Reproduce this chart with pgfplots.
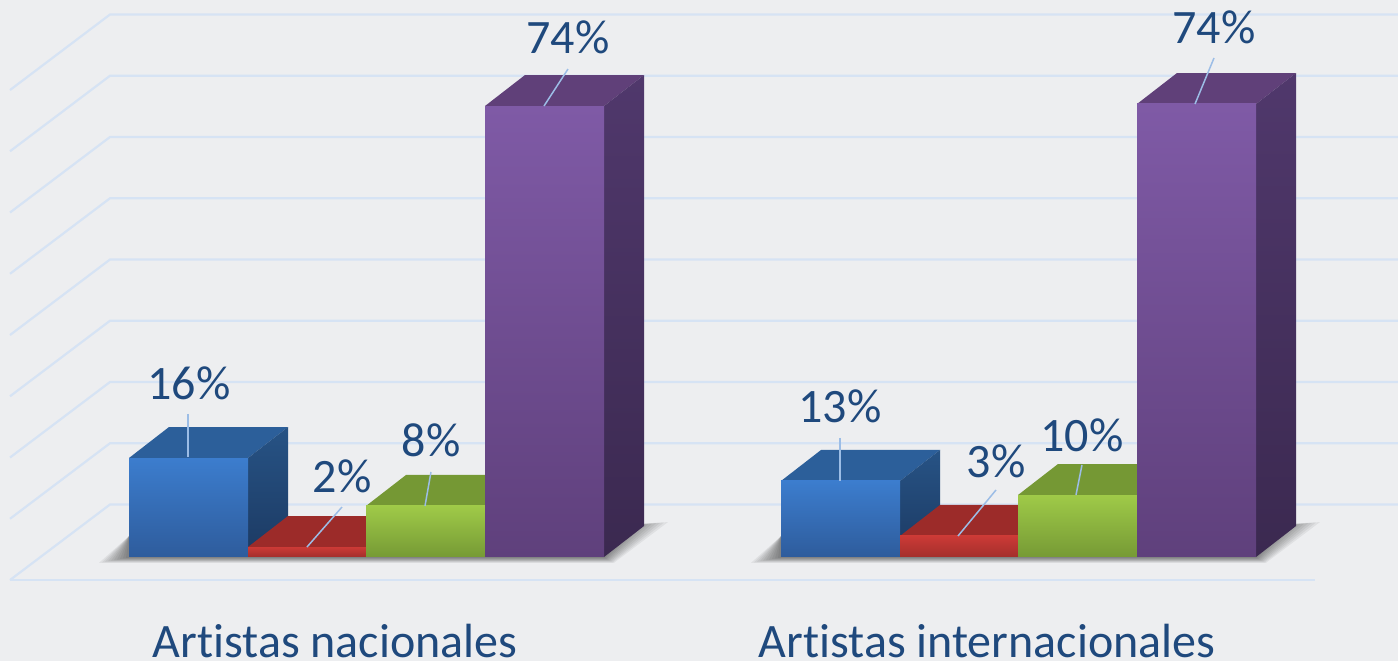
\documentclass[border=0pt]{standalone}
\usepackage{pgfplots}
\pgfplotsset{compat=1.18}
\usepackage{fontspec}
\setmainfont[Ligatures=NoCommon]{Carlito}

\definecolor{bg}{HTML}{EDEEF0}
\definecolor{gridc}{HTML}{D6E3F4}
\definecolor{leader}{HTML}{9CBDE6}
\definecolor{txt}{HTML}{1F497D}
\definecolor{bluetop}{HTML}{2C5F9A}
\definecolor{blueA}{HTML}{3C7DCE}
\definecolor{blueB}{HTML}{2E5C9C}
\definecolor{blueS}{HTML}{275385}
\definecolor{blueT}{HTML}{1C3A63}
\definecolor{redtop}{HTML}{9C2B29}
\definecolor{redA}{HTML}{CC3A36}
\definecolor{redB}{HTML}{A32F2C}
\definecolor{redS}{HTML}{7E2220}
\definecolor{redT}{HTML}{6E1E1C}
\definecolor{greentop}{HTML}{759834}
\definecolor{greenA}{HTML}{9FCA48}
\definecolor{greenB}{HTML}{769A35}
\definecolor{greenS}{HTML}{5F7B2A}
\definecolor{greenT}{HTML}{506824}
\definecolor{purptop}{HTML}{604079}
\definecolor{purpA}{HTML}{7F5AA6}
\definecolor{purpB}{HTML}{5F407C}
\definecolor{purpS}{HTML}{50386C}
\definecolor{purpT}{HTML}{3B2950}

% x0, x1, value, colour prefix
\newcommand{\threedbar}[4]{%
  \pgfmathsetmacro{\xb}{#2+40}%
  \pgfmathsetmacro{\xa}{#1+40}%
  \pgfmathsetmacro{\vt}{#3+5.06}%
  \addplot[fill=#4top,draw=none] coordinates {(#1,#3) (\xa,\vt) (\xb,\vt) (#2,#3)} -- cycle;
  \addplot[top color=#4S,bottom color=#4T,draw=none] coordinates {(#2,#3) (\xb,\vt) (\xb,5.06) (#2,0)} -- cycle;
  \addplot[top color=#4A,bottom color=#4B,draw=none] coordinates {(#1,0) (#1,#3) (#2,#3) (#2,0)} -- cycle;
}
% soft shadow of a cluster: x0, x1, layer k
\newcommand{\shadowlayer}[3]{%
  \pgfmathsetmacro{\xl}{#1-30+3*#3}%
  \pgfmathsetmacro{\xs}{#2+64-4*#3}%
  \pgfmathsetmacro{\ys}{5.7-0.07*#3}%
  \pgfmathsetmacro{\xm}{#2+10-1.1*#3}%
  \pgfmathsetmacro{\yb}{-0.95+0.09*#3}%
  \addplot[fill=black,fill opacity=0.055,draw=none] coordinates {(\xl,\yb) (#1,3.4) (#2,5.06) (\xs,\ys) (\xm,\yb)} -- cycle;
}
\newcommand{\clustershadow}[2]{%
  \shadowlayer{#1}{#2}{0}
  \shadowlayer{#1}{#2}{1}
  \shadowlayer{#1}{#2}{2}
  \shadowlayer{#1}{#2}{3}
  \shadowlayer{#1}{#2}{4}
  \shadowlayer{#1}{#2}{5}
  \shadowlayer{#1}{#2}{6}
  \shadowlayer{#1}{#2}{7}
  \shadowlayer{#1}{#2}{8}
  \shadowlayer{#1}{#2}{9}
}
% gridline on the back wall with its diagonal on the left
\newcommand{\gridl}[2]{%
  \addplot[gridc,line width=2.2pt,line join=round] coordinates {(10,#2) (110,#1) (1398,#1)};
}
\newcommand{\lead}[4]{%
  \addplot[leader,line width=1.5pt] coordinates {(#1,#2) (#3,#4)};
}
\newcommand{\pct}[3]{%
  \node[text=txt,font=\fontsize{48}{50}\selectfont,anchor=center,inner sep=0pt] at (axis cs:#1,#2) {#3\%};
}

\begin{document}
\begin{tikzpicture}
\begin{axis}[
  width=1398pt, height=661pt,
  scale only axis,
  hide axis,
  xmin=0, xmax=1398,
  ymin=-16.98, ymax=90.94,
]
% background
\addplot[fill=bg,draw=none] coordinates {(0,-16.98) (1398,-16.98) (1398,90.94) (0,90.94)} -- cycle;

% gridlines
\gridl{8.57}{-3.76}
\gridl{18.57}{6.24}
\gridl{28.57}{16.24}
\gridl{38.57}{26.24}
\gridl{48.57}{36.24}
\gridl{58.57}{46.24}
\gridl{68.57}{56.24}
\gridl{78.57}{66.24}
\gridl{88.57}{76.24}
\addplot[gridc,line width=2.2pt] coordinates {(10,-3.76) (1315,-3.76)};

\clustershadow{129}{604}
\clustershadow{781}{1256}

% Artistas nacionales
\threedbar{129}{248}{16.16}{blue}
\threedbar{248}{366}{1.63}{red}
\threedbar{366}{485}{8.33}{green}
\threedbar{485}{604}{73.63}{purp}

% Artistas internacionales
\threedbar{781}{900}{12.41}{blue}
\threedbar{900}{1018}{3.43}{red}
\threedbar{1018}{1137}{10.12}{green}
\threedbar{1137}{1256}{73.96}{purp}

% leader lines
\lead{188}{23.35}{188}{16.33}
\lead{342}{8.16}{307}{1.63}
\lead{431}{13.88}{425}{8.33}
\lead{568}{79.67}{544}{73.63}
\lead{840}{19.43}{840}{12.41}
\lead{996}{10.94}{958}{3.43}
\lead{1082}{15.02}{1076}{10.12}
\lead{1214}{81.47}{1195}{73.96}

% value labels
\pct{189}{28.4}{16}
\pct{342}{13.1}{2}
\pct{431}{19}{8}
\pct{568}{84.9}{74}
\pct{840}{24.6}{13}
\pct{996}{15.7}{3}
\pct{1082}{19.9}{10}
\pct{1214}{86.4}{74}

% category labels
\node[text=txt,font=\fontsize{48}{50}\selectfont,anchor=base,inner sep=0pt] at (axis cs:335,-16.4) {Artistas nacionales};
\node[text=txt,font=\fontsize{48}{50}\selectfont,anchor=base,inner sep=0pt] at (axis cs:987,-16.4) {Artistas internacionales};
\end{axis}
\end{tikzpicture}
\end{document}
